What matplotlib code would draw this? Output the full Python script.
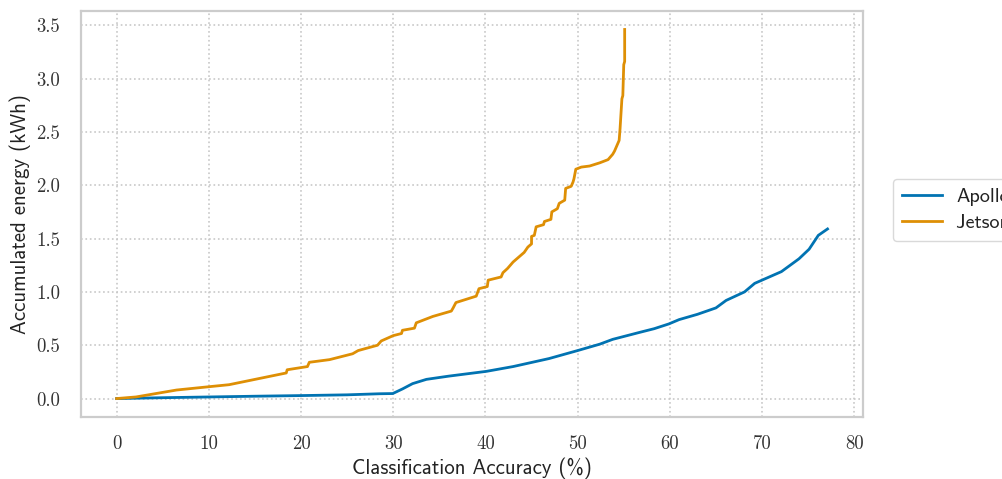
import matplotlib
matplotlib.use("Agg")
import matplotlib.pyplot as plt
from matplotlib.ticker import FuncFormatter

# ---- data ----
apollo_acc = [0.0, 5.0, 10.0, 15.0, 20.0, 25.0, 28.5, 29.95, 31.0, 32.1, 33.6, 36.0, 40.1,
              43.0, 46.9, 50.0, 52.4, 53.8, 56.7, 58.3, 59.9, 61.0, 63.0, 65.0, 66.1,
              68.1, 69.2, 72.1, 74.0, 75.1, 76.1, 77.1]
apollo_energy = [0.0, 0.008, 0.015, 0.022, 0.028, 0.035, 0.045, 0.047, 0.09, 0.14, 0.18, 0.21, 0.255,
                 0.30, 0.375, 0.45, 0.51, 0.555, 0.62, 0.655, 0.70, 0.74, 0.79, 0.85, 0.92,
                 1.00, 1.08, 1.19, 1.31, 1.40, 1.53, 1.59]

jetson_acc = [0.0, 2.1, 6.5, 9.9, 12.2, 18.4, 18.5, 20.7, 20.9, 23.1, 25.6, 26.2, 28.3, 28.7,
              30.0, 30.9, 31.0, 32.3, 32.5, 34.3, 36.3, 36.5, 36.8, 39.0, 39.3, 40.2, 40.3,
              41.7, 41.9, 42.4, 43.0, 44.2, 44.6, 45.0, 45.0, 45.3, 45.5, 46.3, 46.4, 47.1,
              47.2, 47.8, 48.0, 48.6, 48.7, 49.3, 49.5, 49.6, 49.8, 50.4, 51.3, 52.4, 53.3,
              53.8, 54.0, 54.5, 54.6, 54.8, 54.9, 55.0, 55.1, 55.1]
jetson_energy = [0.0, 0.015, 0.08, 0.11, 0.13, 0.24, 0.27, 0.30, 0.34, 0.365, 0.42, 0.45, 0.50, 0.54,
                 0.59, 0.61, 0.64, 0.66, 0.71, 0.77, 0.82, 0.85, 0.90, 0.96, 1.03, 1.05, 1.11,
                 1.14, 1.18, 1.22, 1.28, 1.37, 1.42, 1.45, 1.52, 1.53, 1.61, 1.63, 1.66, 1.68,
                 1.75, 1.78, 1.83, 1.86, 1.97, 1.99, 2.03, 2.06, 2.15, 2.17, 2.18, 2.21, 2.24,
                 2.29, 2.32, 2.42, 2.53, 2.81, 2.84, 3.13, 3.16, 3.46]

labels = ["Apollo4", "Jetson Nano"]
colors = ["#0173b2", "#de8f05"]
xticks = [0, 10, 20, 30, 40, 50, 60, 70, 80]
yticks = [0.0, 0.5, 1.0, 1.5, 2.0, 2.5, 3.0, 3.5]

# ---- figure ----
fig = plt.figure(figsize=(10.03, 4.79), dpi=100)
ax = fig.add_axes([0.0808, 0.1294, 0.7797, 0.8476])

ax.plot(apollo_acc, apollo_energy, color=colors[0], lw=2.0, label=labels[0])
ax.plot(jetson_acc, jetson_energy, color=colors[1], lw=2.0, label=labels[1])

ax.set_xticks(xticks)
ax.set_yticks(yticks)
ax.xaxis.set_major_formatter(FuncFormatter(lambda v, p: f"{v:.0f}"))
ax.yaxis.set_major_formatter(FuncFormatter(lambda v, p: f"{v:.1f}"))
for lab in ax.get_xticklabels() + ax.get_yticklabels():
    lab.set_fontfamily("cmr10")
    lab.set_fontsize(13.5)
    lab.set_color("#333333")
ax.tick_params(axis="y", length=0, pad=15)
ax.tick_params(axis="x", length=0, pad=13)

ax.grid(True, linestyle=":", color="#c8c8c8", linewidth=1.2)
ax.set_axisbelow(True)
for s in ax.spines.values():
    s.set_color("#cccccc")
    s.set_linewidth(1.6)

ax.set_xlabel("Classification Accuracy (%)", fontfamily="cmss10", fontsize=15, color="#222222", labelpad=3)
ax.set_ylabel("Accumulated energy (kWh)", fontfamily="cmss10", fontsize=15, color="#222222", labelpad=4)

leg = ax.legend(loc="center left", bbox_to_anchor=(1.025, 0.51), frameon=True,
                prop={"family": "cmss10", "size": 14.5}, handlelength=2.0,
                handletextpad=0.7, borderpad=0.45, labelspacing=0.35, borderaxespad=0.5)
leg.get_frame().set_edgecolor("#d0d0d0")
for t in leg.get_texts():
    t.set_color("#222222")

fig.savefig("out.png", dpi=100)
